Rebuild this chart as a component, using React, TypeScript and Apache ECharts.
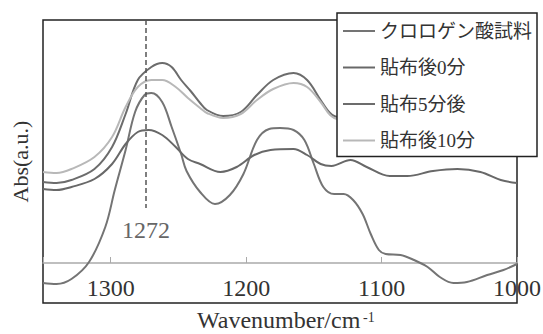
import React, { useEffect, useRef } from "react";
import * as echarts from "echarts";

// Wavenumber (cm-1) and absorbance (arbitrary units, baseline = 0)
const acidWn = [1350, 1340, 1329, 1316, 1304, 1297, 1289, 1282, 1275, 1270, 1262, 1255, 1248, 1244, 1234, 1223, 1212, 1202, 1192, 1183, 1175, 1165, 1157, 1150, 1143, 1135, 1128, 1121, 1114, 1108, 1102, 1097, 1086, 1076, 1066, 1057, 1047, 1037, 1022, 1010, 1000];
const acidAbs = [-20, -21, -16, 1, 36, 73, 113, 151, 168, 170, 161, 136, 109, 92, 71, 59, 68, 89, 123, 134, 135, 133, 123, 99, 76, 69, 69, 63, 49, 29, 13, 9, 8, 3, -4, -14, -20, -19, -12, -7, -1];

const min0Wn = [1350, 1340, 1329, 1312, 1299, 1289, 1280, 1272, 1262, 1252, 1243, 1234, 1219, 1207, 1194, 1182, 1165, 1155, 1145, 1137, 1123, 1111, 1094, 1081, 1062, 1044, 1027, 1012, 1000];
const min0Abs = [74, 73, 76, 84, 99, 119, 131, 133, 128, 116, 104, 99, 91, 96, 108, 113, 114, 108, 99, 97, 103, 96, 87, 87, 92, 94, 91, 83, 80];

const min5Wn = [1350, 1340, 1329, 1312, 1299, 1289, 1280, 1270, 1262, 1255, 1248, 1241, 1234, 1229, 1217, 1204, 1192, 1180, 1165, 1155, 1145, 1138, 1132, 1123, 1110, 1094, 1080, 1062, 1044, 1027, 1012, 1000];
const min5Abs = [81, 80, 83, 94, 116, 149, 183, 196, 200, 196, 183, 172, 160, 153, 147, 151, 168, 183, 190, 183, 163, 150, 146, 148, 140, 130, 128, 133, 135, 132, 125, 120];

const min10Wn = [1350, 1340, 1329, 1312, 1299, 1289, 1280, 1270, 1262, 1252, 1243, 1234, 1229, 1217, 1204, 1192, 1180, 1165, 1155, 1145, 1138, 1132, 1123, 1110, 1094, 1080, 1062, 1044, 1027, 1012, 1000];
const min10Abs = [91, 90, 94, 106, 126, 156, 176, 183, 183, 176, 165, 155, 150, 145, 149, 163, 174, 180, 176, 161, 148, 144, 146, 138, 128, 126, 131, 133, 130, 123, 118];

const seriesNames = ["クロロゲン酸試料", "貼布後0分", "貼布5分後", "貼布後10分"];
const seriesColors = ["#747474", "#686868", "#6c6c6c", "#b8b8b8"];

const X_MIN = 1000;
const X_MAX = 1350;
const X_INTERVAL = 100;
const Y_MIN = -40;
const Y_MAX = 243;
const PEAK_POS = 1274;
const PEAK_LABEL = "1272";
const PEAK_LINE_END = 55;

const SERIF = '"Liberation Serif", "Times New Roman", serif';
const LEGEND_FONT = '"Liberation Serif", "Noto Sans CJK JP", serif';

const zip = (xs: number[], ys: number[]) => xs.map((x, i) => [x, ys[i]]);

export default function App() {
  const ref = useRef<HTMLDivElement>(null);
  useEffect(() => {
    if (!ref.current) return;
    const chart = echarts.init(ref.current, undefined, { renderer: "svg" });
    const datasets = [
      zip(acidWn, acidAbs),
      zip(min0Wn, min0Abs),
      zip(min5Wn, min5Abs),
      zip(min10Wn, min10Abs),
    ];
    const baseX = {
      type: "value",
      min: X_MIN,
      max: X_MAX,
      interval: X_INTERVAL,
      inverse: true,
      splitLine: { show: false },
    };
    chart.setOption({
      animation: false,
      backgroundColor: "#fff",
      grid: {
        left: 43,
        right: 26,
        top: 20,
        bottom: 31,
        show: true,
        borderColor: "#222",
        borderWidth: 1.5,
        backgroundColor: "transparent",
        containLabel: false,
        outerBoundsMode: "none",
      },
      legend: {
        data: seriesNames,
        orient: "vertical",
        left: 337,
        top: 13,
        backgroundColor: "#fff",
        borderColor: "#222",
        borderWidth: 1.5,
        borderRadius: 0,
        padding: [8, 5, 6, 6],
        icon: "rect",
        itemWidth: 32,
        itemHeight: 2,
        itemGap: 16.5,
        z: 10,
        textStyle: {
          fontSize: 19,
          lineHeight: 20,
          color: "#333",
          fontFamily: LEGEND_FONT,
        },
      },
      xAxis: [
        {
          ...baseX,
          axisLine: { show: true, onZero: true, lineStyle: { color: "#aaa", width: 1.5 } },
          axisTick: { show: true, inside: true, length: 6, lineStyle: { color: "#aaa", width: 1 } },
          axisLabel: { show: false },
        },
        {
          ...baseX,
          position: "bottom",
          axisLine: { show: false, onZero: false },
          axisTick: { show: false },
          axisLabel: {
            show: true,
            inside: true,
            margin: 3,
            showMinLabel: true,
            showMaxLabel: false,
            fontSize: 24,
            color: "#333",
            fontFamily: SERIF,
            formatter: (v: number) => String(v),
          },
        },
      ],
      yAxis: {
        type: "value",
        min: Y_MIN,
        max: Y_MAX,
        name: "Abs(a.u.)",
        nameLocation: "middle",
        nameGap: 12,
        nameTextStyle: { fontSize: 22, color: "#333", fontFamily: SERIF },
        axisLine: { show: false },
        axisTick: { show: false },
        axisLabel: { show: false },
        splitLine: { show: false },
      },
      graphic: [
        {
          type: "text",
          left: 197,
          top: 308,
          style: { text: "Wavenumber/cm", font: `24px ${SERIF}`, fill: "#333" },
        },
        {
          type: "text",
          left: 363,
          top: 310,
          style: { text: "-1", font: `14px ${SERIF}`, fill: "#333" },
        },
      ],
      series: datasets.map((d, i) => ({
        name: seriesNames[i],
        type: "line",
        data: d,
        smooth: 0.35,
        symbol: "none",
        z: 2,
        lineStyle: { color: seriesColors[i], width: 2 },
        itemStyle: { color: seriesColors[i] },
        markLine:
          i === 0
            ? {
                silent: true,
                symbol: ["none", "none"],
                lineStyle: { type: [5, 3], color: "#555", width: 1.5 },
                label: {
                  show: true,
                  position: "end",
                  formatter: PEAK_LABEL,
                  fontSize: 24,
                  color: "#666",
                  fontFamily: SERIF,
                  distance: 10,
                },
                data: [[{ coord: [PEAK_POS, Y_MAX] }, { coord: [PEAK_POS, PEAK_LINE_END] }]],
              }
            : undefined,
      })),
    });
    return () => chart.dispose();
  }, []);
  return (
    <div
      ref={ref}
      style={{ position: "fixed", left: 0, top: 0, width: 543, height: 334, background: "#fff" }}
    />
  );
}
